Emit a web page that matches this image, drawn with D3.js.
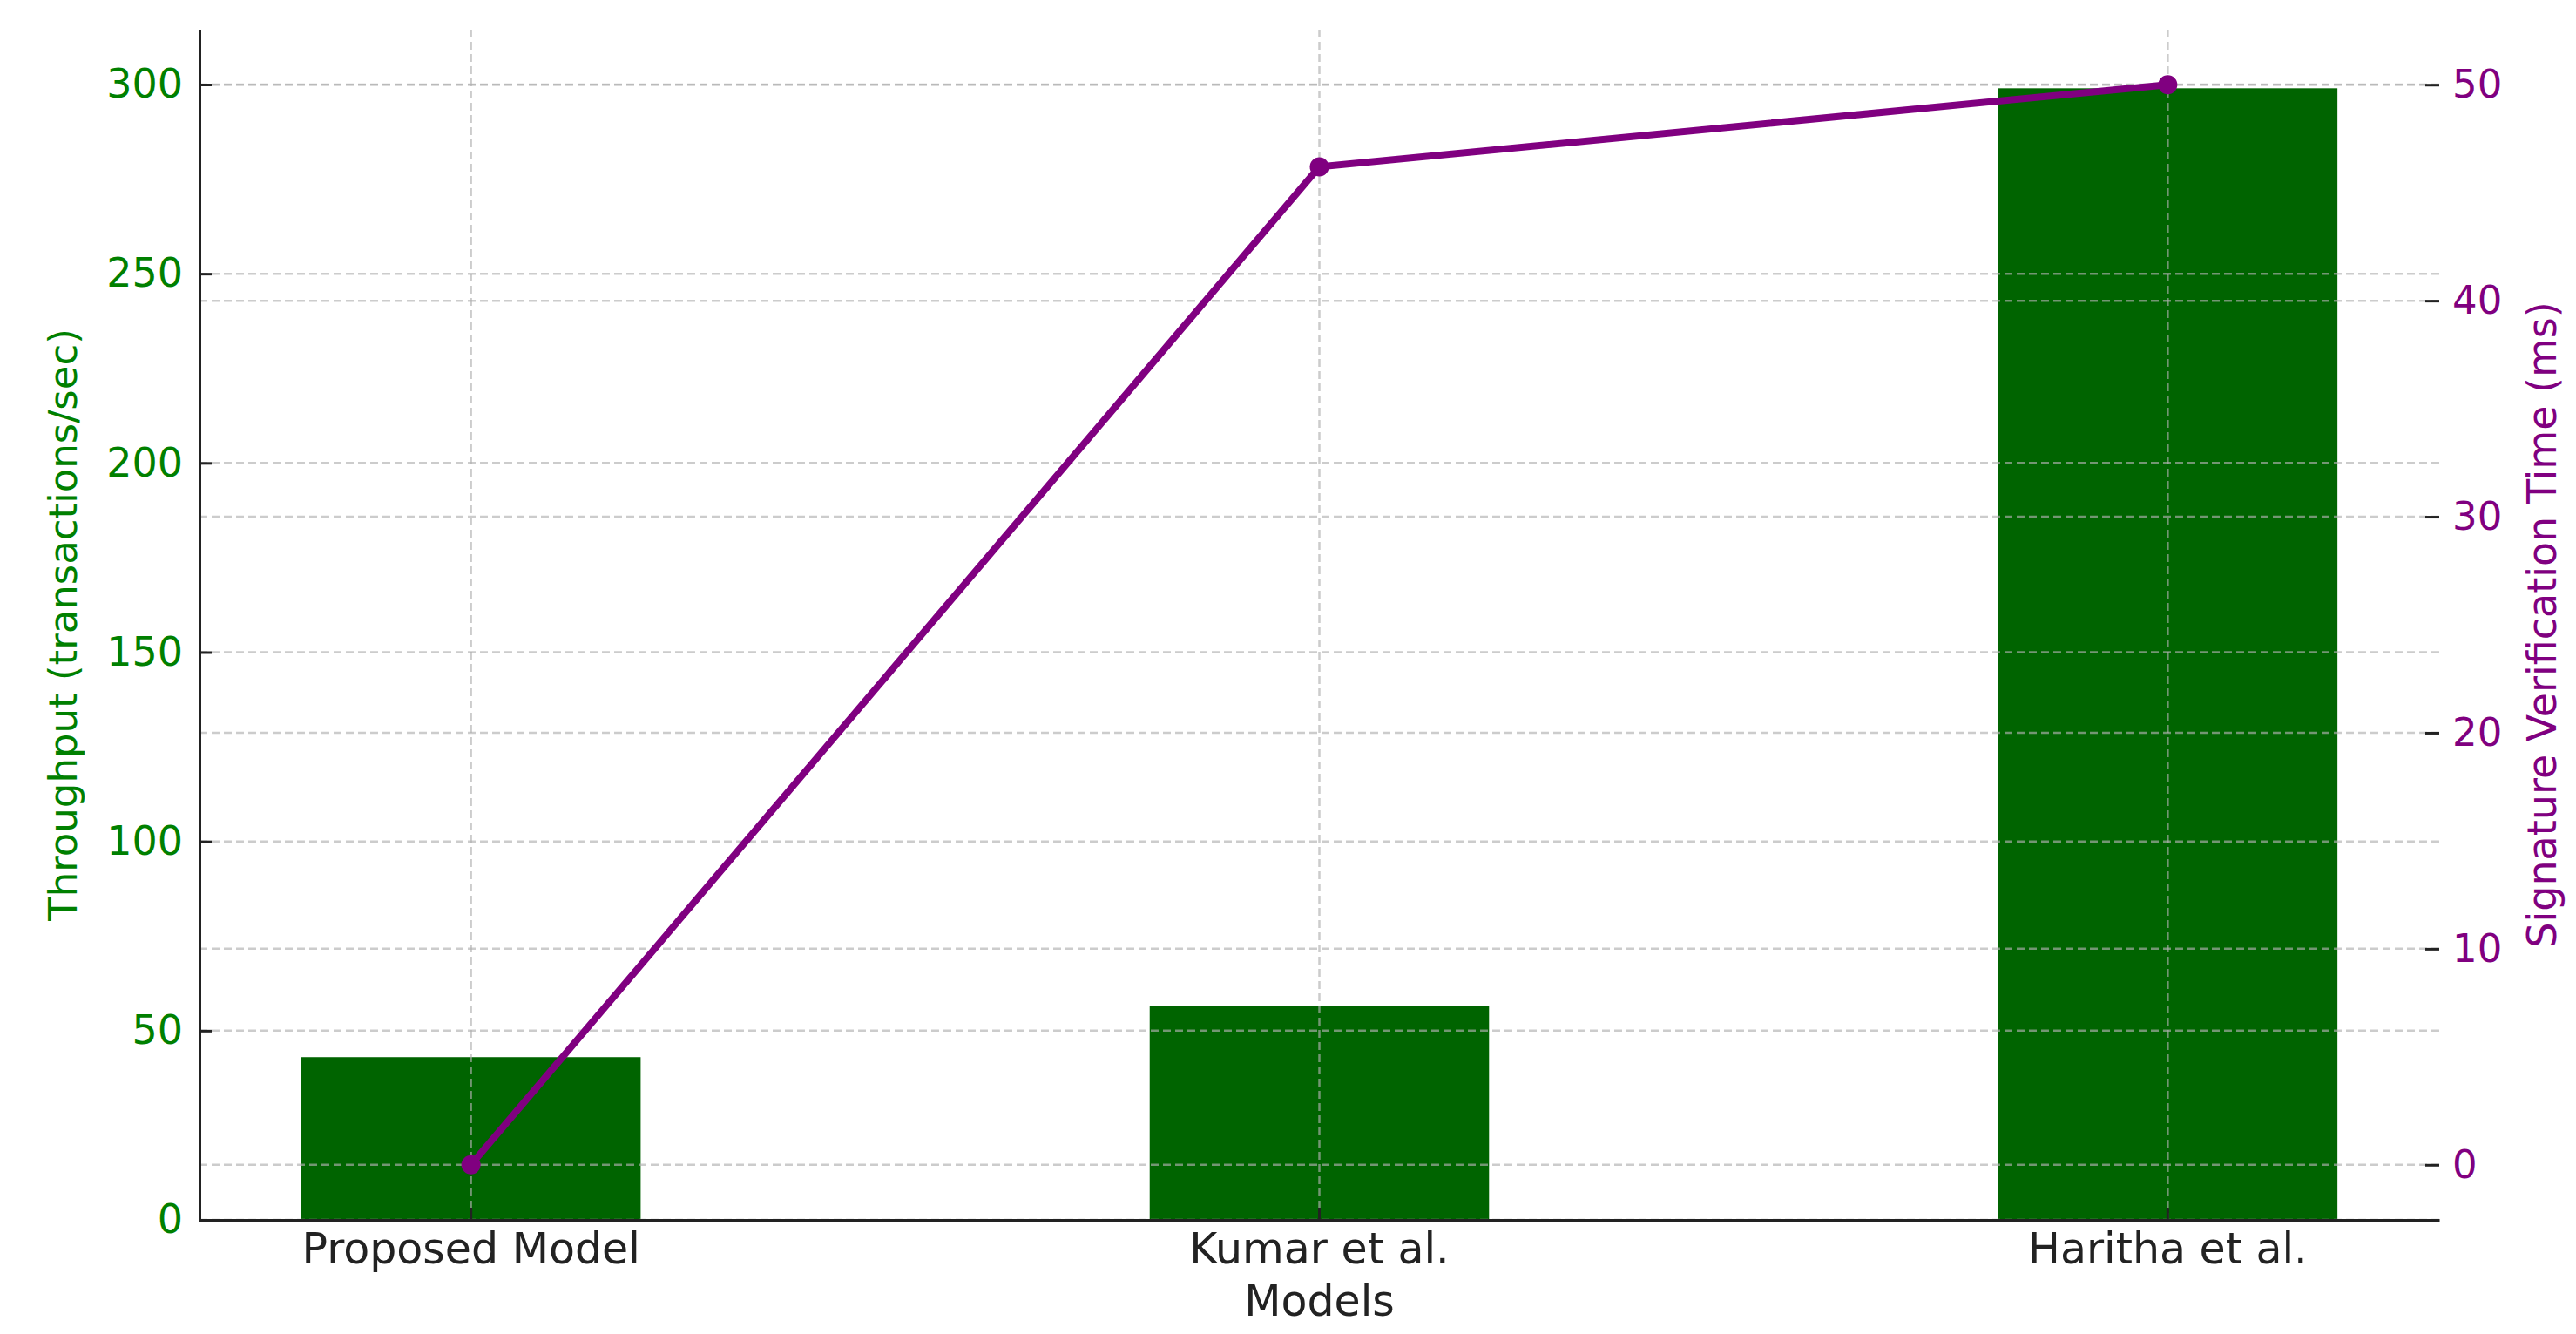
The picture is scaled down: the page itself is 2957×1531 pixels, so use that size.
<!DOCTYPE html>
<html>
<head>
<meta charset="utf-8">
<script src="https://cdn.jsdelivr.net/npm/d3@7"></script>
<style>
  html, body { margin: 0; padding: 0; background: #fff; }
  svg { display: block; font-family: "DejaVu Sans", sans-serif; }
</style>
</head>
<body>
<svg id="chart" width="2957" height="1531"></svg>
<script>
// data
var models = ["Proposed Model", "Kumar et al.", "Haritha et al."]
var throughput = [43, 56.5, 299]        // transactions/sec (bars, left axis)
var verifyTime = [0, 46.2, 50]          // ms (line, right axis)
var leftTicks = [0, 50, 100, 150, 200, 250, 300]
var rightTicks = [0, 10, 20, 30, 40, 50]

// layout (注意: 不能用 top 做变量名，会和 window.top 冲突)
var plotLeft = 229, plotRight = 2800, plotTop = 34, plotBottom = 1400

var svg = d3.select("#chart")

var x = d3.scaleBand()
          .domain(models)
          .range([plotLeft, plotRight])
          .paddingInner(0.6)
          .paddingOuter(0.12)

var yL = d3.scaleLinear().domain([0, 314.5]).range([plotBottom, plotTop])
var yR = d3.scaleLinear().domain([-2.55, 52.55]).range([plotBottom, plotTop])

var cx = function (d) { return x(d) + x.bandwidth() / 2 }

// 柱子
svg.append("g")
   .selectAll("rect")
   .data(models)
   .join("rect")
   .attr("x", function (d) { return x(d) })
   .attr("y", function (d, i) { return yL(throughput[i]) })
   .attr("width", x.bandwidth())
   .attr("height", function (d, i) { return yL(0) - yL(throughput[i]) })
   .attr("fill", "#006400")

// 网格线（画在柱子上面）
var grid = svg.append("g")
              .attr("stroke", "#b0b0b0")
              .attr("stroke-opacity", 0.65)
              .attr("stroke-width", 2.5)
              .attr("stroke-dasharray", "9,5")

grid.selectAll(".gl")
    .data(leftTicks)
    .join("line")
    .attr("class", "gl")
    .attr("x1", plotLeft).attr("x2", plotRight)
    .attr("y1", function (d) { return yL(d) })
    .attr("y2", function (d) { return yL(d) })

grid.selectAll(".gr")
    .data(rightTicks)
    .join("line")
    .attr("class", "gr")
    .attr("x1", plotLeft).attr("x2", plotRight)
    .attr("y1", function (d) { return yR(d) })
    .attr("y2", function (d) { return yR(d) })

grid.selectAll(".gv")
    .data(models)
    .join("line")
    .attr("class", "gv")
    .attr("x1", cx).attr("x2", cx)
    .attr("y1", plotTop).attr("y2", plotBottom)

// 左轴
var axL = svg.append("g")
             .attr("transform", "translate(" + plotLeft + ",0)")
             .call(d3.axisLeft(yL).tickValues(leftTicks).tickSizeInner(-14).tickSizeOuter(0).tickPadding(19))
axL.select(".domain").attr("stroke", "#222").attr("stroke-width", 3)
axL.selectAll(".tick line").attr("stroke", "#222").attr("stroke-width", 3)
axL.selectAll(".tick text")
   .attr("fill", "green")
   .attr("font-size", 46)
   .attr("font-family", "DejaVu Sans")

// 右轴
var axR = svg.append("g")
             .attr("transform", "translate(" + plotRight + ",0)")
             .call(d3.axisRight(yR).tickValues(rightTicks).tickSizeInner(-16).tickSizeOuter(0).tickPadding(15))
axR.select(".domain").remove()
axR.selectAll(".tick line").attr("stroke", "#222").attr("stroke-width", 3)
axR.selectAll(".tick text")
   .attr("fill", "purple")
   .attr("font-size", 45)
   .attr("font-family", "DejaVu Sans")

// 底轴
var axB = svg.append("g")
             .attr("transform", "translate(0," + plotBottom + ")")
             .call(d3.axisBottom(x).tickSizeInner(-14).tickSizeOuter(0).tickPadding(15))
axB.select(".domain").attr("stroke", "#222").attr("stroke-width", 3)
axB.selectAll(".tick line").attr("stroke", "#222").attr("stroke-width", 3)
axB.selectAll(".tick text")
   .attr("fill", "#222")
   .attr("font-size", 49)
   .attr("font-family", "DejaVu Sans")

// 折线
var line = d3.line()
             .x(function (d, i) { return cx(models[i]) })
             .y(function (d) { return yR(d) })

svg.append("path")
   .datum(verifyTime)
   .attr("d", line)
   .attr("fill", "none")
   .attr("stroke", "purple")
   .attr("stroke-width", 8)
   .attr("stroke-linejoin", "round")

svg.append("g")
   .selectAll("circle")
   .data(verifyTime)
   .join("circle")
   .attr("cx", function (d, i) { return cx(models[i]) })
   .attr("cy", function (d) { return yR(d) })
   .attr("r", 11)
   .attr("fill", "purple")

// 轴标题
svg.append("text")
   .attr("x", (plotLeft + plotRight) / 2)
   .attr("y", 1510)
   .attr("text-anchor", "middle")
   .attr("font-size", 49)
   .attr("fill", "#222")
   .text("Models")

svg.append("text")
   .attr("transform", "translate(88," + (plotTop + plotBottom) / 2 + ") rotate(-90)")
   .attr("text-anchor", "middle")
   .attr("font-size", 45)
   .attr("fill", "green")
   .text("Throughput (transactions/sec)")

svg.append("text")
   .attr("transform", "translate(2934," + (plotTop + plotBottom) / 2 + ") rotate(-90)")
   .attr("text-anchor", "middle")
   .attr("font-size", 46)
   .attr("fill", "purple")
   .text("Signature Verification Time (ms)")
</script>
</body>
</html>
